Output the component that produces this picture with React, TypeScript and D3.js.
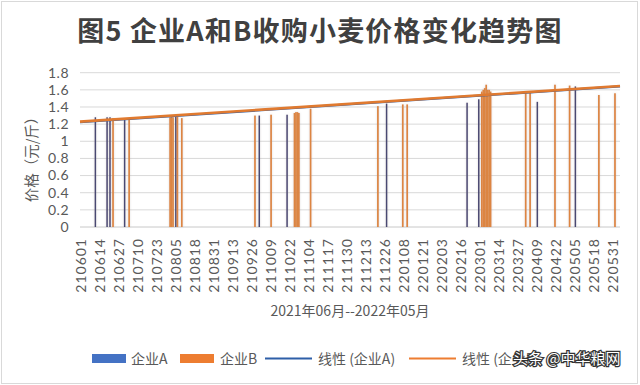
import React from "react";
import * as d3 from "d3";

// ---- data ----
const startDate = "210601";
const tickLabels = [
  "210601","210614","210627","210710","210723","210805","210818","210831","210913","210926",
  "211009","211022","211104","211117","211130","211213","211226","220108","220121","220203",
  "220216","220301","220314","220327","220409","220422","220505","220518","220531",
];
const datesA = ["210611","210619","210621","210701","210805","211001","211020","211227","220220","220228","220409","220505"];
const valuesA = [1.28, 1.28, 1.28, 1.25, 1.30, 1.30, 1.31, 1.44, 1.45, 1.49, 1.46, 1.64];
const datesB = [
  "210623","210704","210801","210802","210803","210806","210809","210928","211009",
  "211025","211026","211027","211028","211105","211221","220107","220110",
  "220302","220303","220304","220305","220306","220307","220308",
  "220401","220404","220421","220501","220521","220601",
];
const valuesB = [
  1.27, 1.25, 1.28, 1.29, 1.28, 1.29, 1.27, 1.30, 1.31,
  1.33, 1.34, 1.34, 1.33, 1.38, 1.41, 1.43, 1.43,
  1.58, 1.60, 1.62, 1.66, 1.60, 1.60, 1.58,
  1.58, 1.58, 1.66, 1.65, 1.54, 1.56,
];
// linear trend lines (start / end values at the plot edges)
const trendA = [1.222, 1.64];
const trendB = [1.229, 1.645];
const yTicks = [0, 0.2, 0.4, 0.6, 0.8, 1, 1.2, 1.4, 1.6, 1.8];
const seriesNames = ["企业A", "企业B", "线性 (企业A)", "线性 (企业B)"];
const title = "图5 企业A和B收购小麦价格变化趋势图";
const xTitle = "2021年06月--2022年05月";
const yTitle = "价格（元/斤）";

const W = 640, H = 385;
const plot = { left: 80, right: 620, top: 72.7, bottom: 227 };
const colA = "#4a4872";
const colB = "#dc8543";
const legA = "#4472C4";
const legB = "#ED7D31";
const font = "'Noto Sans CJK SC', 'Noto Sans', sans-serif";
const numFont = "Lato, 'Open Sans', sans-serif";

const parse = d3.timeParse("%y%m%d");
const d0 = parse(startDate) as Date;
const dayOf = (s: string) => d3.timeDay.count(d0, parse(s) as Date);

export default function App() {
  const x = d3.scaleLinear().domain([-0.5, 368.5]).range([plot.left, plot.right]);
  const y = d3.scaleLinear().domain([0, 1.8]).range([plot.bottom, plot.top]);
  const bw = 1.5;
  const line = d3.line<[number, number]>().x((d) => d[0]).y((d) => y(d[1]));

  return (
    <div style={{ position: "fixed", left: 0, top: 0 }}>
      <svg width={W} height={H} style={{ display: "block", background: "#fff" }} fontFamily={font}>
        <defs>
          <filter id="soft" x="-100%" y="-5%" width="300%" height="110%">
            <feGaussianBlur in="SourceAlpha" stdDeviation="1.3" result="b" />
            <feFlood floodColor="#a09898" floodOpacity="0.35" />
            <feComposite in2="b" operator="in" result="s" />
            <feGaussianBlur in="SourceGraphic" stdDeviation="0.4" result="g" />
            <feMerge>
              <feMergeNode in="s" />
              <feMergeNode in="g" />
            </feMerge>
          </filter>
        </defs>
        <rect x={1.5} y={1.5} width={W - 4} height={H - 3} fill="#fff" stroke="#d9d9d9" />
        <text x={320} y={41} textAnchor="middle" fontSize={27} fontWeight={700} fill="#404040" letterSpacing={1.2}>
          {title}
        </text>
        {/* grid */}
        {yTicks.map((t) => (
          <g key={t}>
            <line x1={plot.left} x2={plot.right} y1={y(t)} y2={y(t)} stroke={t === 0 ? "#c8c8c8" : "#d9d9d9"} strokeWidth={1} />
            <text x={69} y={y(t)} dy="0.35em" textAnchor="end" fontSize={14} fill="#595959" fontFamily={numFont} letterSpacing={0.5}>
              {String(t)}
            </text>
          </g>
        ))}
        {/* bars */}
        <g filter="url(#soft)">
          {datesA.map((d, i) => (
            <rect key={"a" + i} x={x(dayOf(d)) - bw / 2} y={y(valuesA[i])} width={bw} height={y(0) - y(valuesA[i])} fill={colA} />
          ))}
          {datesB.map((d, i) => (
            <rect key={"b" + i} x={x(dayOf(d)) - bw / 2} y={y(valuesB[i])} width={bw + 0.2} height={y(0) - y(valuesB[i])} fill={colB} />
          ))}
        </g>
        {/* trend lines */}
        <path d={line([[plot.left, trendA[0]], [plot.right, trendA[1]]]) || ""} stroke="#2e5fa8" strokeWidth={2.2} fill="none" />
        <path d={line([[plot.left, trendB[0]], [plot.right, trendB[1]]]) || ""} stroke="#e07a30" strokeWidth={2.6} fill="none" />
        {/* x tick labels */}
        {tickLabels.map((t) => {
          const xx = x(dayOf(t));
          return (
            <text key={t} transform={`translate(${xx + 5},238) rotate(-90)`} textAnchor="end" fontSize={14} fill="#595959" fontFamily={numFont} letterSpacing={1}>
              {t}
            </text>
          );
        })}
        <text transform={`translate(37,156) rotate(-90)`} textAnchor="middle" fontSize={14.5} fill="#595959">
          {yTitle}
        </text>
        <text x={350} y={316} textAnchor="middle" fontSize={14} fill="#595959">
          {xTitle}
        </text>
        {/* legend */}
        <g fontSize={14} fill="#595959">
          <rect x={92} y={354} width={34} height={9} fill={legA} />
          <text x={131} y={363.5}>{seriesNames[0]}</text>
          <rect x={180} y={354} width={34} height={9} fill={legB} />
          <text x={220} y={363.5}>{seriesNames[1]}</text>
          <line x1={265} x2={312} y1={358.5} y2={358.5} stroke="#2e5fa8" strokeWidth={2.2} />
          <text x={318} y={363.5}>{seriesNames[2]}</text>
          <line x1={409} x2={456} y1={358.5} y2={358.5} stroke={legB} strokeWidth={2.2} />
          <text x={462} y={363.5}>{seriesNames[3]}</text>
        </g>
        <text x={513} y={364} fontSize={15} fill="#ffffff" stroke="#333" strokeWidth={2.4} paintOrder="stroke">
          头条 @中华粮网
        </text>
      </svg>
    </div>
  );
}
